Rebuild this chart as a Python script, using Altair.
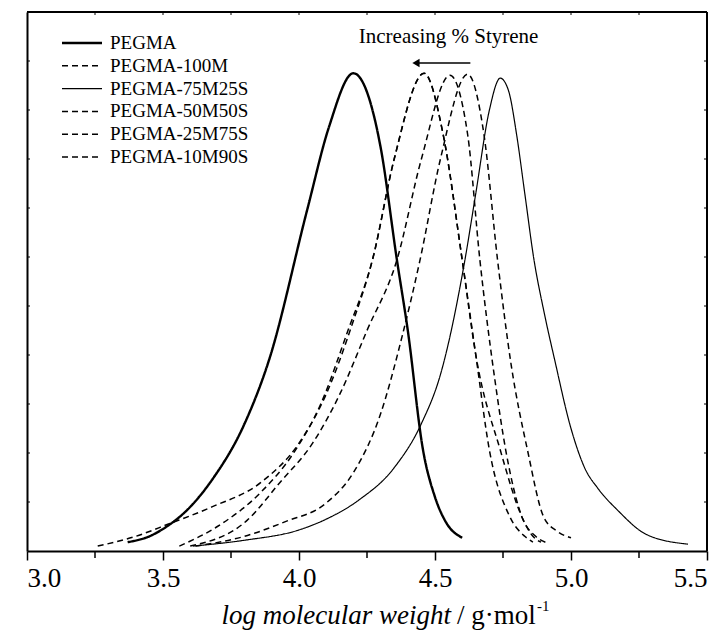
import altair as alt
import pandas as pd

# ---- data (x = log M, y = normalised signal) ----
pegma_x = [3.37, 3.45, 3.5, 3.6, 3.68, 3.8, 3.89, 4.03, 4.11, 4.2, 4.3, 4.36, 4.4, 4.456, 4.5, 4.54, 4.6]
pegma_y = [0.018, 0.03, 0.045, 0.09, 0.145, 0.26, 0.39, 0.696, 0.865, 0.975, 0.824, 0.594, 0.45, 0.206, 0.11, 0.059, 0.027]

m100_x = [3.62, 3.8, 3.95, 4.1, 4.2, 4.3, 4.38, 4.445, 4.52, 4.62, 4.68, 4.73, 4.78, 4.84, 4.9, 4.95, 5.0]
m100_y = [0.010, 0.03, 0.06, 0.098, 0.16, 0.28, 0.44, 0.594, 0.80, 0.973, 0.85, 0.594, 0.38, 0.206, 0.069, 0.04, 0.027]

s25_x = [3.61, 3.8, 4.0, 4.1, 4.22, 4.35, 4.45, 4.52, 4.61, 4.65, 4.7, 4.74, 4.77, 4.8, 4.83, 4.864, 4.9, 4.94, 5.0, 5.05, 5.1, 5.17, 5.28, 5.43]
s25_y = [0.010, 0.022, 0.043, 0.065, 0.104, 0.17, 0.26, 0.36, 0.594, 0.73, 0.9, 0.965, 0.94, 0.85, 0.73, 0.594, 0.49, 0.39, 0.25, 0.17, 0.127, 0.084, 0.033, 0.014]

s50_x = [3.6, 3.81, 3.93, 4.05, 4.15, 4.25, 4.36, 4.45, 4.555, 4.62, 4.665, 4.72, 4.76, 4.82, 4.87, 4.915]
s50_y = [0.010, 0.063, 0.14, 0.22, 0.32, 0.45, 0.594, 0.80, 0.971, 0.85, 0.594, 0.35, 0.206, 0.069, 0.03, 0.016]

s75_x = [3.56, 3.7, 3.86, 3.98, 4.08, 4.18, 4.27, 4.35, 4.46, 4.53, 4.6, 4.65, 4.74, 4.82, 4.86, 4.89]
s75_y = [0.010, 0.05, 0.12, 0.20, 0.30, 0.45, 0.594, 0.80, 0.975, 0.85, 0.594, 0.40, 0.206, 0.069, 0.03, 0.018]

s90_x = [3.26, 3.4, 3.52, 3.68, 3.86, 4.0, 4.1, 4.2, 4.27, 4.35, 4.46, 4.53, 4.6, 4.65, 4.7, 4.775, 4.83, 4.86]
s90_y = [0.010, 0.03, 0.055, 0.09, 0.14, 0.22, 0.32, 0.47, 0.594, 0.80, 0.975, 0.85, 0.594, 0.40, 0.206, 0.07, 0.03, 0.018]

names = ["PEGMA", "PEGMA-100M", "PEGMA-75M25S", "PEGMA-50M50S", "PEGMA-25M75S", "PEGMA-10M90S"]
xs = [pegma_x, m100_x, s25_x, s50_x, s75_x, s90_x]
ys = [pegma_y, m100_y, s25_y, s50_y, s75_y, s90_y]
dashes = [[1, 0], [6, 4], [1, 0], [6, 4], [6, 4], [6, 4]]
widths = [2.4, 1.5, 1.2, 1.5, 1.5, 1.5]

x_ticks = [3.0, 3.5, 4.0, 4.5, 5.0, 5.5]
minor_x = [3.25, 3.75, 4.25, 4.75, 5.25]
arrow_x = [4.63, 4.43]
arrow_y = 0.996
label_text = "Increasing % Styrene"
label_x = 4.55
label_y = 1.05
title_italic = "log molecular weight"
title_upright = "/ g·mol"
title_sup = "-1"

FONT = "Liberation Serif"
W, H = 680, 539
XDOM = [3.0, 5.5]
YDOM = [0.0, 1.1]

xscale = alt.Scale(domain=XDOM, nice=False, zero=False)
yscale = alt.Scale(domain=YDOM, nice=False, zero=False)
xaxis = alt.Axis(values=x_ticks, format=".1f", tickSize=9, tickWidth=1.5,
                 domainWidth=2, domainColor="black", tickColor="black",
                 labelFont=FONT, labelFontSize=27, labelColor="black",
                 labelPadding=5, grid=False, title=None)
yaxis = alt.Axis(labels=False, ticks=False, domainWidth=2, domainColor="black",
                 grid=False, title=None)
X = alt.X("x:Q", scale=xscale, axis=xaxis)
Y = alt.Y("y:Q", scale=yscale, axis=yaxis)

layers = []
for n, xv, yv, d, w in zip(names, xs, ys, dashes, widths):
    df = pd.DataFrame({"x": xv, "y": yv, "series": n})
    layers.append(
        alt.Chart(df).mark_line(color="black", strokeDash=d, strokeWidth=w,
                                interpolate="monotone", clip=True)
        .encode(x=X, y=Y)
    )

base_df = pd.DataFrame({"x": [3.0], "y": [0.0]})

# minor x ticks
minor_df = pd.DataFrame({"x": minor_x})
minor_ticks = alt.Chart(minor_df).mark_rule(color="black", strokeWidth=1.5).encode(
    x=X, y=alt.value(H), y2=alt.value(H + 7))

# y ticks (both sides, inward, small) and top ticks
y_tick_vals = [round(0.1 * i, 2) for i in range(1, 11)]
ytick_df = pd.DataFrame({"y": y_tick_vals})
left_ticks = alt.Chart(ytick_df).mark_rule(color="black", strokeWidth=1).encode(
    y=Y, x=alt.value(0), x2=alt.value(3))
right_ticks = alt.Chart(ytick_df).mark_rule(color="black", strokeWidth=1).encode(
    y=Y, x=alt.value(W - 3), x2=alt.value(W))
top_df = pd.DataFrame({"x": [3.25, 3.5, 3.75, 4.0, 4.25, 4.5, 4.75, 5.0, 5.25]})
top_ticks = alt.Chart(top_df).mark_rule(color="black", strokeWidth=1).encode(
    x=X, y=alt.value(0), y2=alt.value(3))
top_line = alt.Chart(base_df).mark_rule(color="black", strokeWidth=2).encode(
    x=alt.value(0), x2=alt.value(W), y=alt.value(0))
right_line = alt.Chart(base_df).mark_rule(color="black", strokeWidth=2).encode(
    x=alt.value(W), y=alt.value(0), y2=alt.value(H))

# legend
leg_layers = []
for i, (n, d, w) in enumerate(zip(names, dashes, widths)):
    yy = 31 + i * 22.8
    one = pd.DataFrame({"name": [n]})
    leg_layers.append(alt.Chart(one).mark_rule(color="black", strokeDash=d, strokeWidth=w).encode(
        x=alt.value(35), x2=alt.value(75), y=alt.value(yy)))
    leg_layers.append(alt.Chart(one).mark_text(align="left", baseline="middle", font=FONT,
                                               fontSize=19, color="black").encode(
        x=alt.value(83), y=alt.value(yy), text="name:N"))

# annotation arrow and text
arr_df = pd.DataFrame({"x": [arrow_x[0]], "x2": [arrow_x[1]], "y": [arrow_y]})
arrow_line = alt.Chart(arr_df).mark_rule(color="black", strokeWidth=1.5).encode(
    x=X, x2="x2:Q", y=Y)
head_df = pd.DataFrame({"x": [arrow_x[1]], "y": [arrow_y]})
arrow_head = alt.Chart(head_df).mark_point(shape="triangle-left", filled=True, color="black",
                                           size=70, opacity=1).encode(x=X, y=Y)
txt_df = pd.DataFrame({"x": [label_x], "y": [label_y], "t": [label_text]})
label = alt.Chart(txt_df).mark_text(font=FONT, fontSize=21, color="black", align="center",
                                    baseline="middle").encode(x=X, y=Y, text="t:N")

# axis title (mixed styles)
t1 = alt.Chart(pd.DataFrame({"t": [title_italic]})).mark_text(
    font=FONT, fontSize=27, fontStyle="italic", align="right", baseline="alphabetic",
    color="black").encode(x=alt.value(424), y=alt.value(612), text="t:N")
t2 = alt.Chart(pd.DataFrame({"t": [title_upright]})).mark_text(
    font=FONT, fontSize=27, align="left", baseline="alphabetic",
    color="black").encode(x=alt.value(430), y=alt.value(612), text="t:N")
t3 = alt.Chart(pd.DataFrame({"t": [title_sup]})).mark_text(
    font=FONT, fontSize=15, align="left", baseline="alphabetic",
    color="black").encode(x=alt.value(510), y=alt.value(599), text="t:N")

chart = alt.layer(*layers, minor_ticks, left_ticks, right_ticks, top_ticks,
                  top_line, right_line, *leg_layers, arrow_line, arrow_head, label,
                  t1, t2, t3).properties(
    width=W, height=H,
    autosize=alt.AutoSizeParams(type="none"),
    padding={"left": 19, "top": 4, "right": 12, "bottom": 95},
).configure_view(stroke=None).configure(background="white")

chart.save("out.html", embed_options={"renderer": "svg", "actions": False})
